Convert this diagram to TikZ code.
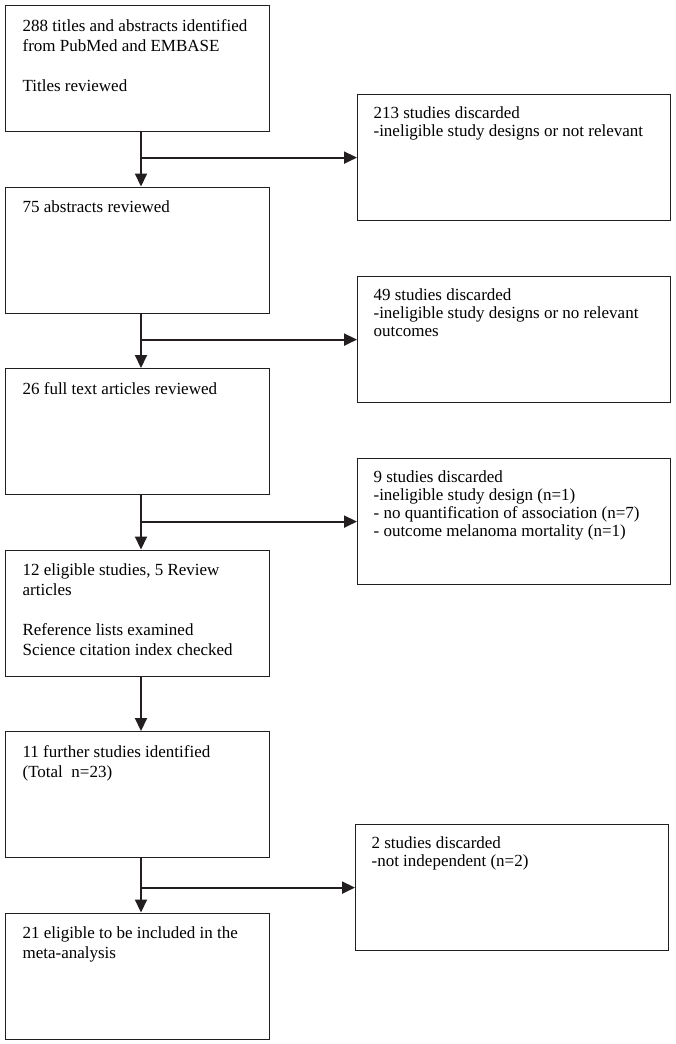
\documentclass[tikz,border=0pt]{standalone}
\usepackage{fontspec}
\setmainfont{Liberation Serif}
\usetikzlibrary{arrows.meta}
\definecolor{flowline}{RGB}{35,31,32}

% box text: width, font size, line spacing, top gap, lines
\newcommand{\boxtext}[5]{\parbox[c][126pt][t]{#1}{\fontsize{#2}{#3}\selectfont\raggedright\vspace*{#4}#5}}
\newcommand{\lefttext}[1]{\boxtext{230pt}{17}{20pt}{14pt}{#1}}
\newcommand{\righttext}[1]{\boxtext{281pt}{17}{18pt}{12pt}{#1}}

\tikzset{
    stage/.style={draw=flowline, line width=1.2pt, anchor=north west, inner xsep=17pt, inner ysep=0pt},
    discard/.style={stage, inner xsep=16pt},
    flow/.style={draw=flowline, line width=2pt, -{Triangle[length=13pt,width=12pt]}}
}

\begin{document}
\begin{tikzpicture}
    \useasboundingbox (0,0) rectangle (675pt,-1044pt);
    \coordinate (spine) at (141pt,0);

    % left column
    \node[stage] (titles) at (5pt,-5pt)
    {\lefttext{288 titles and abstracts identified\\ from PubMed and EMBASE\\[20pt] Titles reviewed}};
    \node[stage] (abstracts) at (5pt,-186.5pt)
    {\lefttext{75 abstracts reviewed}};
    \node[stage] (fulltext) at (5pt,-368pt)
    {\lefttext{26 full text articles reviewed}};
    \node[stage] (eligible) at (5pt,-549.5pt)
    {\lefttext{12 eligible studies, 5 Review\\ articles\\[20pt] Reference lists examined\\ Science citation index checked}};
    \node[stage] (further) at (5pt,-731pt)
    {\lefttext{11 further studies identified\\ (Total~ n=23)}};
    \node[stage] (included) at (5pt,-912.5pt)
    {\lefttext{21 eligible to be included in the\\ meta-analysis}};

    % right column
    \node[discard] (drop1) at (357pt,-94pt)
    {\righttext{213 studies discarded\\ -ineligible study designs or not relevant}};
    \node[discard] (drop2) at (357pt,-276pt)
    {\righttext{49 studies discarded\\ -ineligible study designs or no relevant\\ outcomes}};
    \node[discard] (drop3) at (357pt,-458pt)
    {\righttext{9 studies discarded\\ -ineligible study design (n=1)\\ - no quantification of association (n=7)\\ - outcome melanoma mortality (n=1)}};
    \node[discard] (drop4) at (355pt,-824pt)
    {\righttext{2 studies discarded\\ -not independent (n=2)}};

    \draw[flow] (titles.south -| spine) -- (abstracts.north -| spine);
    \draw[flow] (abstracts.south -| spine) -- (fulltext.north -| spine);
    \draw[flow] (fulltext.south -| spine) -- (eligible.north -| spine);
    \draw[flow] (eligible.south -| spine) -- (further.north -| spine);
    \draw[flow] (further.south -| spine) -- (included.north -| spine);

    \draw[flow] (drop1.west -| spine) -- (drop1.west);
    \draw[flow] (drop2.west -| spine) -- (drop2.west);
    \draw[flow] (drop3.west -| spine) -- (drop3.west);
    \draw[flow] (drop4.west -| spine) -- (drop4.west);
\end{tikzpicture}
\end{document}
